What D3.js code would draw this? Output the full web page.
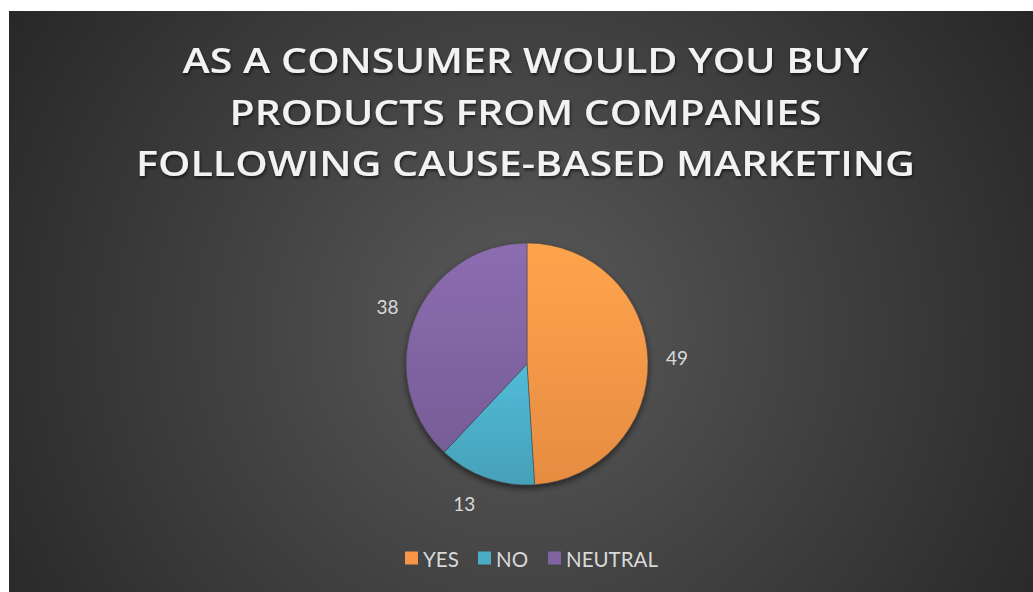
<!DOCTYPE html>
<html>
<head>
<meta charset="utf-8">
<script src="https://cdn.jsdelivr.net/npm/d3@7"></script>
<style>
  html, body { margin: 0; padding: 0; background: #ffffff; }
  svg { display: block; }
</style>
</head>
<body>
<svg id="chart" width="1033" height="592"></svg>
<script>
// Survey responses
const categories = ["YES", "NO", "NEUTRAL"];
const values = [49, 13, 38];
const colors = ["#F79646", "#4BACC6", "#8064A2"];
const titleLines = [
  "AS A CONSUMER WOULD YOU BUY",
  "PRODUCTS FROM COMPANIES",
  "FOLLOWING CAUSE-BASED MARKETING"
];

const svg = d3.select("#chart");
const W = 1033, H = 592;
const frame = { x: 9, y: 11, w: W - 9, h: H - 11 };

const defs = svg.append("defs");

// Dark radial background
const bg = defs.append("radialGradient").attr("id", "bgGrad")
  .attr("gradientUnits", "userSpaceOnUse")
  .attr("cx", 520).attr("cy", 330).attr("r", 620);
bg.append("stop").attr("offset", "0%").attr("stop-color", "#5a5a5a");
bg.append("stop").attr("offset", "45%").attr("stop-color", "#424242");
bg.append("stop").attr("offset", "100%").attr("stop-color", "#262626");

svg.append("rect")
  .attr("x", frame.x).attr("y", frame.y)
  .attr("width", frame.w).attr("height", frame.h)
  .attr("fill", "url(#bgGrad)");

// Text shadow for title
const ts = defs.append("filter").attr("id", "titleShadow")
  .attr("x", "-10%").attr("y", "-30%").attr("width", "120%").attr("height", "160%");
ts.append("feDropShadow").attr("dx", 1).attr("dy", 2).attr("stdDeviation", 1.5)
  .attr("flood-color", "#000").attr("flood-opacity", 0.6);

// Pie shadow
const ps = defs.append("filter").attr("id", "pieShadow")
  .attr("x", "-20%").attr("y", "-20%").attr("width", "140%").attr("height", "140%");
ps.append("feDropShadow").attr("dx", 0).attr("dy", 3).attr("stdDeviation", 3)
  .attr("flood-color", "#000").attr("flood-opacity", 0.55);

// Slice gradients (lighter at top)
colors.forEach((c, i) => {
  const g = defs.append("linearGradient").attr("id", "slice" + i)
    .attr("x1", 0).attr("y1", 0).attr("x2", 0).attr("y2", 1);
  g.append("stop").attr("offset", "0%").attr("stop-color", d3.color(c).brighter(0.25));
  g.append("stop").attr("offset", "100%").attr("stop-color", d3.color(c).darker(0.2));
});

// Title
const titleFont = "'Open Sans', 'DejaVu Sans', sans-serif";
const titleY = [73, 125, 176];
const titleWidths = [686, 592, 779];
svg.append("g").attr("filter", "url(#titleShadow)")
  .selectAll("text").data(titleLines).join("text")
  .attr("x", 525.5)
  .attr("y", (d, i) => titleY[i])
  .attr("text-anchor", "middle")
  .attr("font-family", titleFont)
  .attr("font-weight", 600)
  .attr("font-size", 35)
  .attr("fill", "#f2f2f2")
  .attr("textLength", (d, i) => titleWidths[i])
  .attr("lengthAdjust", "spacingAndGlyphs")
  .text(d => d);

// Pie
const cx = 527, cy = 364, R = 121;
const pie = d3.pie().sort(null).value(d => d.value);
const data = categories.map((c, i) => ({ cat: c, value: values[i], idx: i }));
const arcs = pie(data);
const arc = d3.arc().innerRadius(0).outerRadius(R);
const labelArc = d3.arc().innerRadius(R + 29).outerRadius(R + 29);

const pg = svg.append("g").attr("transform", `translate(${cx},${cy})`);
const sliceGroup = pg.append("g").attr("filter", "url(#pieShadow)");
sliceGroup.selectAll("path").data(arcs).join("path")
  .attr("d", arc)
  .attr("fill", d => `url(#slice${d.data.idx})`)
  .attr("stroke", "#404040")
  .attr("stroke-width", 0.5);

// Outside-end labels: push the text box outward along the slice's mid angle
const labelFont = "Lato, 'Open Sans', sans-serif";
pg.selectAll("text.lbl").data(arcs).join("text")
  .attr("class", "lbl")
  .attr("transform", d => {
    const [x, y] = labelArc.centroid(d);
    const a = (d.startAngle + d.endAngle) / 2;
    const dx = Math.sin(a) < -0.2 && Math.cos(a) < -0.5 ? -12 : 0;
    return `translate(${x + dx},${y - 2})`;
  })
  .attr("text-anchor", "middle")
  .attr("dominant-baseline", "central")
  .attr("font-family", labelFont)
  .attr("font-size", 19)
  .attr("fill", "#d9d9d9")
  .text(d => d.data.value);

// Legend
const legendItems = [
  { x: 405, tx: 423 },
  { x: 478, tx: 496 },
  { x: 548, tx: 566 }
];
const lg = svg.append("g");
const ly = 558;
categories.forEach((c, i) => {
  lg.append("rect")
    .attr("x", legendItems[i].x).attr("y", ly - 6.5)
    .attr("width", 13).attr("height", 13)
    .attr("fill", colors[i]);
  lg.append("text")
    .attr("x", legendItems[i].tx).attr("y", ly + 0.5)
    .attr("dominant-baseline", "central")
    .attr("font-family", labelFont)
    .attr("font-size", 20.5)
    .attr("fill", "#d9d9d9")
    .text(c);
});
</script>
</body>
</html>
